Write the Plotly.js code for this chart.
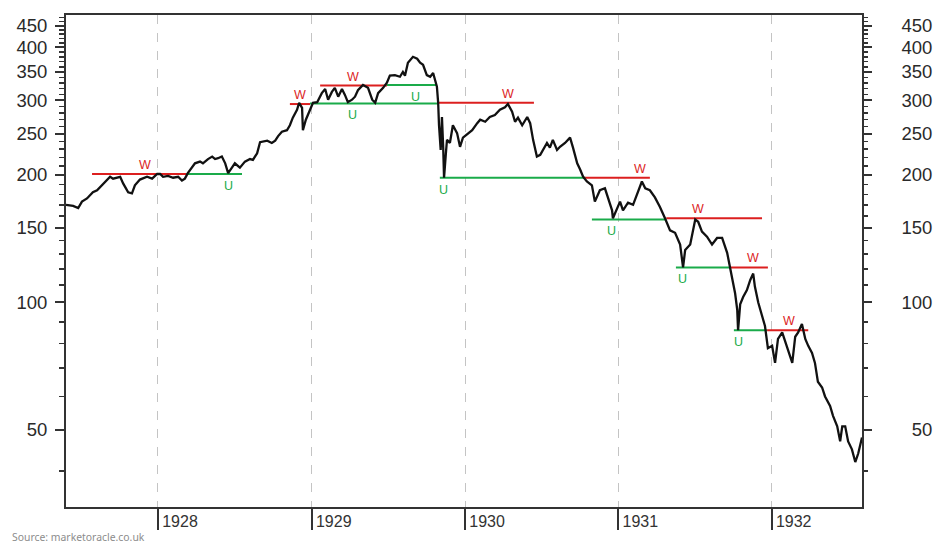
<!DOCTYPE html>
<html>
<head>
<meta charset="utf-8">
<script src="https://cdn.plot.ly/plotly-3.0.1.min.js"></script>
<style>
html,body{margin:0;padding:0;background:#fff;}
#chart{width:948px;height:547px;}
</style>
</head>
<body>
<div id="chart"></div>
<script>
// Dow Jones Industrial Average, 1927-1932
const dates = [
"1927-05-27","1927-06-13","1927-06-25","1927-07-04","1927-07-16","1927-07-30","1927-08-09","1927-08-21",
"1927-09-02","1927-09-09","1927-09-16","1927-10-03","1927-10-10","1927-10-22","1927-10-31","1927-11-07",
"1927-11-19","1927-12-06","1927-12-18","1927-12-30",
"1928-01-06","1928-01-13","1928-01-25","1928-02-06","1928-02-18","1928-02-27","1928-03-05","1928-03-12",
"1928-03-29","1928-04-10","1928-04-17","1928-04-29","1928-05-09","1928-05-16","1928-05-23","1928-06-01",
"1928-06-09","1928-06-16","1928-06-25","1928-07-02","1928-07-14","1928-07-26","1928-08-07","1928-08-14",
"1928-08-24","1928-08-31","1928-09-17","1928-09-28","1928-10-06","1928-10-13","1928-10-22","1928-11-03",
"1928-11-10","1928-11-17","1928-11-27","1928-12-02","1928-12-09","1928-12-11","1928-12-18","1928-12-26",
"1929-01-04","1929-01-14","1929-01-25","1929-02-02","1929-02-09","1929-02-18","1929-02-25","1929-03-05",
"1929-03-14","1929-03-21","1929-03-28","1929-04-07","1929-04-14","1929-04-21","1929-05-03","1929-05-15",
"1929-05-25","1929-06-01","1929-06-08","1929-06-20","1929-06-29","1929-07-06","1929-07-18","1929-07-30",
"1929-08-06","1929-08-11","1929-08-18","1929-08-30","1929-09-09","1929-09-16","1929-09-23","1929-10-02",
"1929-10-10","1929-10-17","1929-10-22","1929-10-26","1929-10-29","1929-10-31","1929-11-04","1929-11-07",
"1929-11-10","1929-11-12","1929-11-17","1929-11-19","1929-11-26","1929-12-03","1929-12-13","1929-12-20",
"1929-12-27",
"1930-01-06","1930-01-18","1930-01-30","1930-02-06","1930-02-18","1930-03-01","1930-03-13","1930-03-25",
"1930-04-06","1930-04-13","1930-04-23","1930-04-30","1930-05-07","1930-05-17","1930-05-29","1930-06-05",
"1930-06-12","1930-06-21","1930-06-29","1930-07-06","1930-07-15","1930-07-22","1930-07-29","1930-08-08",
"1930-08-15","1930-08-27","1930-09-08","1930-09-15","1930-09-25","1930-10-02","1930-10-09","1930-10-18",
"1930-10-30","1930-11-06","1930-11-18","1930-11-30","1930-12-07","1930-12-17","1930-12-19","1930-12-29",
"1931-01-05","1931-01-12","1931-01-24","1931-02-05","1931-02-14","1931-02-26","1931-03-06","1931-03-17",
"1931-03-29","1931-04-10","1931-04-22","1931-05-04","1931-05-16","1931-05-28","1931-06-04","1931-06-09",
"1931-06-21","1931-07-03","1931-07-10","1931-07-19","1931-07-31","1931-08-12","1931-08-24","1931-09-05",
"1931-09-17","1931-09-24","1931-09-29","1931-10-06","1931-10-11","1931-10-13","1931-10-18","1931-10-25",
"1931-11-03","1931-11-11","1931-11-18","1931-11-22","1931-11-30","1931-12-09","1931-12-16","1931-12-23",
"1932-01-02","1932-01-09","1932-01-16","1932-01-26","1932-02-02","1932-02-09","1932-02-19","1932-02-26",
"1932-03-04","1932-03-13","1932-03-21","1932-03-28","1932-04-06","1932-04-13","1932-04-20","1932-04-30",
"1932-05-07","1932-05-19","1932-05-26","1932-06-05","1932-06-12","1932-06-17","1932-06-24","1932-07-01",
"1932-07-10","1932-07-18","1932-07-25","1932-08-03"
];
const values = [
170,169,167,173,176,182,184,189,
195,198,196,198,191,182,181,189,
195,198,196,201,
201,198,199,197,198,194,196,202,
213,215,213,218,221,218,219,221,
213,202,208,213,208,215,218,217,
225,239,241,238,241,247,253,255,
262,273,285,296,288,255,270,282,
296,297,312,319,301,314,321,306,
319,309,297,301,306,317,326,321,
301,296,312,321,330,343,344,341,
350,343,368,380,376,368,364,344,
341,348,335,323,296,262,229,274,
232,197,229,242,238,262,251,233,
245,
249,255,265,270,267,274,277,285,
289,294,282,267,273,262,274,265,
242,221,223,229,238,232,242,229,
233,238,245,232,213,206,198,193,
189,173,184,186,177,165,158,167,
173,165,172,170,179,193,186,184,
177,168,158,148,146,137,121,133,
137,157,155,147,143,137,142,142,
131,121,115,105,96,86,99,103,
107,113,117,109,100,93,88,78,
79,72,82,85,81,77,72,83,
85,89,82,79,76,72,65,63,
60,57,54,51,47,51,51,47,
45,42,44,48
];

// "W" resistance levels (red) and "U" support levels (green)
const wStart = ["1927-07-28","1928-11-10","1929-01-21","1929-10-29","1930-10-09","1931-04-25","1931-09-24","1931-12-21"];
const wEnd   = ["1928-03-08","1928-12-28","1929-06-29","1930-06-14","1931-03-17","1931-12-09","1931-12-23","1932-03-28"];
const wLevel = [201,294,325,296,197,158,121,86];
const wLabelDate = ["1927-12-01","1928-12-04","1929-04-09","1930-04-13","1931-02-22","1931-07-10","1931-11-18","1932-02-11"];

const uStart = ["1928-03-08","1928-12-28","1929-06-29","1929-11-02","1930-10-30","1931-05-18","1931-10-03"];
const uEnd   = ["1928-07-19","1929-10-29","1929-10-26","1930-10-14","1931-04-25","1931-09-24","1931-12-21"];
const uLevel = [201,295,326,197,157,121,86];
const uLabelDate = ["1928-06-16","1929-04-07","1929-09-06","1929-11-10","1930-12-15","1931-06-02","1931-10-15"];

const yMajor = [50,100,150,200,250,300,350,400,450];
const yMajorText = ["50","100","150","200","250","300","350","400","450"];
// right-hand labels are right-aligned, so they are padded with figure / punctuation spaces
const yMajorTextRight = ["\u2007\u2007\u2007\u200850","\u2007\u2007\u2008100","\u2007\u2007\u2008150","\u2007\u2007\u2008200","\u2007\u2007\u2008250","\u2007\u2007\u2008300","\u2007\u2007\u2008350","\u2007\u2007\u2008400","\u2007\u2007\u2008450"];
const yMinor = [40,60,70,80,90,110,120,130,140,160,170,180,190,210,220,230,240,260,270,280,290,310,320,330,340,360,370,380,390,410,420,430,440,460,470];
const xTicks = ["1928-01-01","1929-01-01","1930-01-01","1931-01-01","1932-01-01"];
const xTickText = ["1928","1929","1930","1931","1932"];

const RED = "#dc1f1f", GREEN = "#1aab4a";

function segs(starts, ends, levels) {
  const x = [], y = [];
  for (let i = 0; i < starts.length; i++) {
    x.push(starts[i], ends[i], null);
    y.push(levels[i], levels[i], null);
  }
  return {x, y};
}
const ws = segs(wStart, wEnd, wLevel);
const us = segs(uStart, uEnd, uLevel);

const traces = [
  {x: ws.x, y: ws.y, mode: "lines", line: {color: RED, width: 2}, hoverinfo: "skip", showlegend: false},
  {x: us.x, y: us.y, mode: "lines", line: {color: GREEN, width: 2}, hoverinfo: "skip", showlegend: false},
  {x: dates, y: values, mode: "lines", line: {color: "#111", width: 2.3}, showlegend: false},
  // empty trace so that the right-hand axis is created
  {x: [], y: [], xaxis: "x", yaxis: "y2", mode: "lines", hoverinfo: "skip", showlegend: false}
];

const annotations = [];
wLabelDate.forEach((d, i) => annotations.push({
  x: d, y: Math.log10(wLevel[i]), xref: "x", yref: "y", text: "W", showarrow: false,
  yanchor: "bottom", yshift: 0, font: {family: "Liberation Sans, Arial, sans-serif", size: 12.5, color: RED}
}));
uLabelDate.forEach((d, i) => annotations.push({
  x: d, y: Math.log10(uLevel[i]), xref: "x", yref: "y", text: "U", showarrow: false,
  yanchor: "top", yshift: -3, font: {family: "Liberation Sans, Arial, sans-serif", size: 12.5, color: GREEN}
}));
annotations.push({
  x: -0.0704, y: -0.061, xref: "paper", yref: "paper", xanchor: "left", yanchor: "middle",
  text: "Source: marketoracle.co.uk", showarrow: false,
  font: {family: "Noto Sans, Open Sans, sans-serif", size: 10.4, color: "#8c8c8c"}
});

const yRange = [Math.log10(32.9), Math.log10(477)];
const tickFont = {family: "Liberation Sans, Arial, sans-serif", size: 18.5, color: "#2a2a2a"};
const minorCfg = {tickmode: "array", tickvals: yMinor, ticks: "outside", ticklen: 5, tickwidth: 1.5, tickcolor: "#333", showgrid: false};

const layout = {
  width: 948, height: 547,
  margin: {l: 66, r: 86, t: 15, b: 40, pad: 0},
  paper_bgcolor: "#fff", plot_bgcolor: "#fff",
  showlegend: false,
  xaxis: {
    type: "date", range: ["1927-05-27", "1932-08-03"],
    tickmode: "array", tickvals: xTicks, ticktext: xTickText,
    ticks: "outside", ticklen: 21, tickwidth: 2, tickcolor: "#333",
    ticklabelshift: 22, ticklabelstandoff: -22,
    showline: true, linewidth: 2, linecolor: "#333", mirror: true,
    showgrid: true, gridcolor: "#c4c4c4", griddash: "dash", gridwidth: 1,
    zeroline: false,
    tickfont: {family: "Liberation Sans, Arial, sans-serif", size: 16, color: "#333"}
  },
  yaxis: {
    type: "log", range: yRange,
    tickmode: "array", tickvals: yMajor, ticktext: yMajorText,
    ticks: "outside", ticklen: 9, tickwidth: 2, tickcolor: "#333",
    minor: minorCfg,
    showline: true, linewidth: 2, linecolor: "#333", mirror: true,
    showgrid: false, zeroline: false,
    ticklabelstandoff: 4,
    tickfont: tickFont
  },
  yaxis2: {
    type: "log", range: yRange, overlaying: "y", side: "right", anchor: "x",
    tickmode: "array", tickvals: yMajor, ticktext: yMajorTextRight,
    ticks: "outside", ticklen: 9, tickwidth: 2, tickcolor: "#333",
    minor: minorCfg,
    showline: false, showgrid: false, zeroline: false,
    tickfont: tickFont
  },
  annotations: annotations
};

Plotly.newPlot("chart", traces, layout, {displayModeBar: false, staticPlot: true});
</script>
</body>
</html>
